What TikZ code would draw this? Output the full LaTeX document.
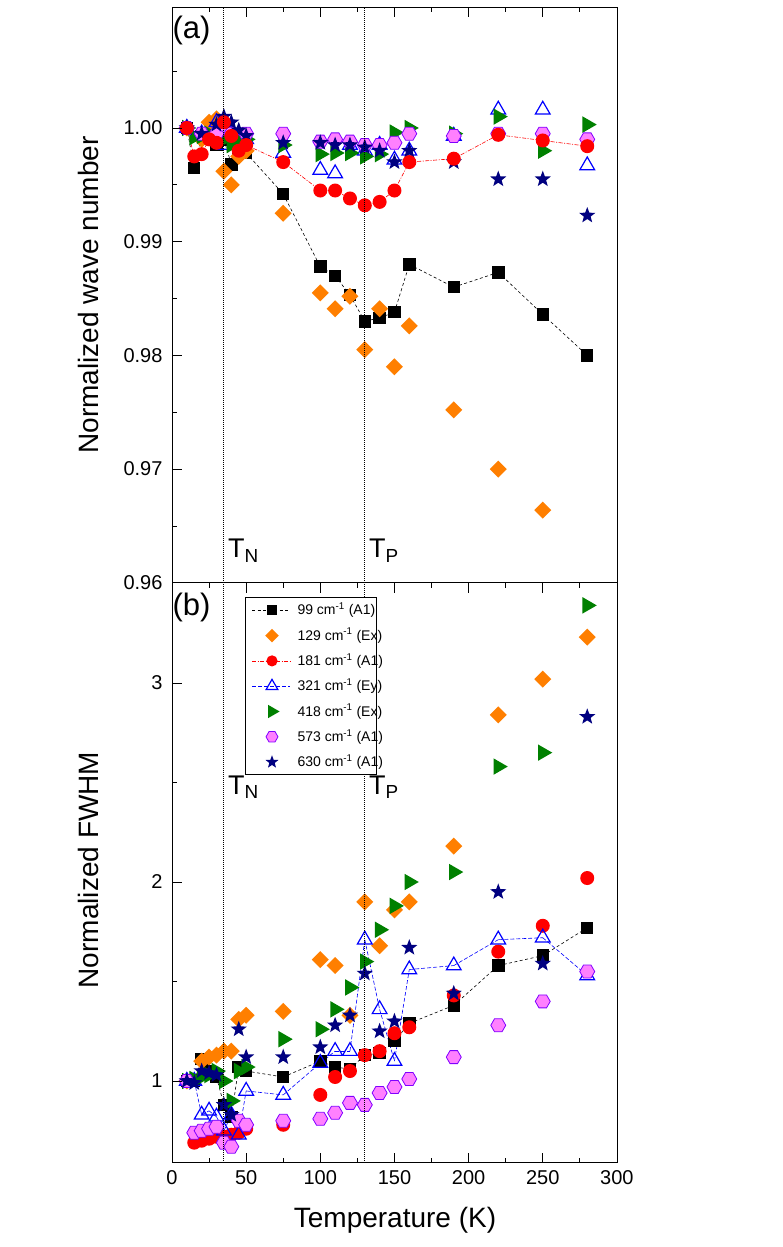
\documentclass[tikz,border=0pt]{standalone}
\usepackage{fontspec}
\setmainfont{Liberation Sans}
\usetikzlibrary{shapes.geometric}
\definecolor{orng}{HTML}{FF7F00}
\definecolor{grn}{HTML}{008000}
\definecolor{vio}{HTML}{8000FF}
\definecolor{pnk}{HTML}{FF80FF}
\definecolor{nvy}{HTML}{000080}
\tikzset{
  mk/.style={inner sep=0pt, outer sep=0pt},
  sqm/.style={mk, rectangle, fill=black, minimum size=12.5pt},
  dim/.style={mk, diamond, fill=orng, minimum size=17pt},
  cim/.style={mk, circle, fill=red, minimum size=14pt},
  trm/.style={mk, regular polygon, regular polygon sides=3, draw=blue, line width=1.2pt, minimum size=17pt},
  grm/.style={mk, regular polygon, regular polygon sides=3, shape border rotate=-90, fill=grn, minimum size=19pt},
  hxm/.style={mk, regular polygon, regular polygon sides=6, draw=vio, fill=pnk, line width=0.8pt, minimum size=15pt},
  stm/.style={mk, star, star points=5, star point ratio=2.4, fill=nvy, minimum size=17pt},
  blkline/.style={black, dash pattern=on 3pt off 2.5pt, line width=0.6pt},
  redline/.style={red, dash pattern=on 4pt off 1.5pt on 1pt off 1.5pt, line width=0.6pt},
  bluline/.style={blue, dash pattern=on 4pt off 2pt, line width=0.6pt},
  nolin/.style={draw=none},
  tlab/.style={font=\fontsize{20}{20}\selectfont},
  alab/.style={font=\fontsize{28}{28}\selectfont},
  tclab/.style={font=\fontsize{27}{27}\selectfont, anchor=base west},
  plab/.style={font=\fontsize{31}{31}\selectfont, anchor=north west}
}
% series data: top in units of 1e-3, bottom as ratio
\newcommand{\dAa}{10/0,15/-3.5,20/-0.7,25/-0.7,30/-1.5,35/-1,40/-3.2,45/-2,50/-2.2,75/-5.8,100/-12.2,110/-13,120/-14.7,130/-17,140/-16.7,150/-16.2,160/-12,190/-14,220/-12.7,250/-16.4,280/-20}
\newcommand{\dAb}{10/0,20/-1,25/0.5,30/0.8,35/-3.8,40/-5,45/-2.5,50/-2,75/-7.5,100/-14.5,110/-15.9,120/-14.8,130/-19.5,140/-15.9,150/-21,160/-17.4,190/-24.8,220/-30,250/-33.6}
\newcommand{\dAc}{10/0,15/-2.5,20/-2.3,25/-1,30/-1.3,35/0.5,40/-0.7,45/-2,50/-1.5,75/-3,100/-5.5,110/-5.5,120/-6.2,130/-6.8,140/-6.5,150/-5.5,160/-3,190/-2.7,220/-0.6,250/-1.1,280/-1.6}
\newcommand{\dAd}{10/0,20/-0.5,30/0.5,35/-1.5,40/-0.5,50/-1,75/-2.2,100/-3.7,110/-4,120/-1.5,130/-2,140/-1.5,150/-2.8,160/-2,190/-0.7,220/1.6,250/1.6,280/-3.3}
\newcommand{\dAe}{10/0,15/-0.8,20/-0.7,25/-0.5,30/-0.7,35/-1,40/-1.5,45/-1,50/-1,75/-1.5,100/-2.3,110/-2.2,120/-2.2,130/-2.5,140/-2.3,150/-0.4,160/0,190/-0.5,220/1,250/-2,280/0.3}
\newcommand{\dAf}{10/0,20/-0.5,30/-0.5,35/0.3,40/-0.5,50/-0.5,75/-0.5,100/-1.2,110/-1,120/-1.2,130/-1.5,140/-1.5,150/-1.3,160/-0.5,190/-0.7,220/-0.5,250/-0.5,280/-1}
\newcommand{\dAg}{10/0,20/-0.5,30/0.3,35/1,40/0.5,45/-0.2,50/-0.7,75/-1.3,100/-1.3,110/-1.5,120/-1.5,130/-1.7,140/-2,150/-3,160/-2,190/-3,220/-4.5,250/-4.5,280/-7.7}
\newcommand{\dBa}{10/1,15/1,20/1.11,25/1.05,30/1.02,35/0.88,40/0.82,45/1.07,50/1.05,75/1.02,100/1.1,110/1.07,120/1.06,130/1.13,140/1.14,150/1.2,160/1.29,190/1.38,220/1.58,250/1.63,280/1.77}
\newcommand{\dBb}{10/1,20/1.1,25/1.12,30/1.13,35/1.15,40/1.15,45/1.31,50/1.33,75/1.35,100/1.61,110/1.58,120/1.33,130/1.9,140/1.68,150/1.86,160/1.9,190/2.18,220/2.84,250/3.02,280/3.23}
\newcommand{\dBc}{15/0.69,20/0.7,25/0.71,30/0.72,35/0.72,40/0.73,45/0.74,50/0.76,75/0.78,100/0.93,110/1.02,120/1.05,130/1.13,140/1.15,150/1.24,160/1.27,190/1.43,220/1.65,250/1.78,280/2.02}
\newcommand{\dBd}{10/1,15/1,20/0.83,25/0.85,30/0.82,35/0.75,40/0.83,45/0.73,50/0.95,75/0.93,100/1.09,110/1.15,120/1.15,130/1.71,140/1.36,150/1.1,160/1.56,190/1.58,220/1.71,250/1.72,280/1.53}
\newcommand{\dBe}{10/1,15/1.01,20/1.02,25/1.03,30/1.05,35/1,40/0.9,45/1.05,50/1.07,75/1.21,100/1.26,110/1.36,120/1.47,130/1.6,140/1.76,150/1.88,160/2,190/2.05,220/2.58,250/2.65,280/3.39}
\newcommand{\dBf}{10/1,15/0.74,20/0.75,25/0.76,30/0.77,35/0.69,40/0.67,45/0.8,50/0.78,75/0.8,100/0.81,110/0.84,120/0.89,130/0.88,140/0.94,150/0.97,160/1.01,190/1.12,220/1.28,250/1.4,280/1.55}
\newcommand{\dBg}{10/1,15/0.99,20/1.05,25/1.04,30/1.03,35/0.88,40/0.83,45/1.26,50/1.12,75/1.12,100/1.17,110/1.28,120/1.33,130/1.54,140/1.25,150/1.3,160/1.67,190/1.44,220/1.95,250/1.59,280/2.83}
\newcommand{\joinpts}[2]{%
  \foreach \x/\y [remember=\x as \px (initially 10), remember=\y as \py (initially 0)] in #2 {\draw[#1] (\px,\py) -- (\x,\y);}}
\newcommand{\joinptsB}[2]{%
  \foreach \x/\y [remember=\x as \px (initially 10), remember=\y as \py (initially 1)] in #2 {\draw[#1] (\px,\py) -- (\x,\y);}}
\newcommand{\markpts}[2]{\foreach \x/\y in #2 {\node[#1] at (\x,\y) {};}}

\begin{document}
\begin{tikzpicture}[x=1pt, y=1pt]
  \useasboundingbox (0,0) rectangle (783,1247);
  % panel (a)
  \begin{scope}[shift={(172pt,1119pt)}, x=1.483pt, y=11.37pt]
    \clip (0,-40) rectangle (300,10.6);
    \joinpts{blkline}{\dAa}
    \joinpts{redline}{\dAc}
    \markpts{sqm}{\dAa}
    \markpts{dim}{\dAb}
    \markpts{trm}{\dAd}
    \markpts{grm}{\dAe}
    \markpts{hxm}{\dAf}
    \markpts{stm}{\dAg}
    \markpts{cim}{\dAc}
  \end{scope}
  \begin{scope}[shift={(172pt,1119pt)}, x=1.483pt, y=11.37pt]
    \foreach \v/\t in {-40/0.96,-30/0.97,-20/0.98,-10/0.99,0/1.00} {
      \draw[line width=0.8pt] (0,\v) -- ++(10pt,0);
      \node[tlab, anchor=east] (ya\v) at ([xshift=-6pt]0,\v) {\t};
    }
    \foreach \v in {-35,-25,-15,-5,5} \draw[line width=0.8pt] (0,\v) -- ++(5pt,0);
    \foreach \t in {50,100,...,250} \draw[line width=0.8pt] (\t,10.6) -- ++(0,-10pt);
    \foreach \t in {25,75,...,275} \draw[line width=0.8pt] (\t,10.6) -- ++(0,-5pt);
    \draw[densely dotted, line width=1pt] (35,-40) -- (35,10.6);
    \draw[densely dotted, line width=1pt] (130,-40) -- (130,10.6);
    \node[tclab] (tna) at (35.5,-37.8) {T\textsubscript{N}};
    \node[tclab] (tpa) at (130.5,-37.8) {T\textsubscript{P}};
    \node[plab] (laba) at (-2,10.2) {(a)};
  \end{scope}
  % panel (b)
  \begin{scope}[shift={(172pt,-33pt)}, x=1.483pt, y=199pt]
    \clip (0,0.588) rectangle (300,3.5);
    \joinptsB{blkline}{\dBa}
    \joinptsB{bluline}{\dBd}
    \markpts{sqm}{\dBa}
    \markpts{dim}{\dBb}
    \markpts{cim}{\dBc}
    \markpts{trm}{\dBd}
    \markpts{grm}{\dBe}
    \markpts{hxm}{\dBf}
    \markpts{stm}{\dBg}
  \end{scope}
  \begin{scope}[shift={(172pt,-33pt)}, x=1.483pt, y=199pt]
    \foreach \v in {1,2,3} {
      \draw[line width=0.8pt] (0,\v) -- ++(10pt,0);
      \node[tlab, anchor=east] (yb\v) at ([xshift=-6pt]0,\v) {\v};
    }
    \foreach \v in {1.5,2.5} \draw[line width=0.8pt] (0,\v) -- ++(5pt,0);
    \foreach \t in {0,50,...,300} {
      \draw[line width=0.8pt] (\t,0.588) -- ++(0,10pt);
      \draw[line width=0.8pt] (\t,3.5) -- ++(0,-10pt);
      \node[tlab, anchor=north] (xl\t) at ([yshift=-4pt]\t,0.588) {\t};
    }
    \foreach \t in {25,75,...,275} {
      \draw[line width=0.8pt] (\t,0.588) -- ++(0,5pt);
      \draw[line width=0.8pt] (\t,3.5) -- ++(0,-5pt);
    }
    \draw[densely dotted, line width=1pt] (35,0.588) -- (35,3.5);
    \draw[densely dotted, line width=1pt] (130,0.588) -- (130,3.5);
    \node[tclab] (tnb) at (35.5,2.44) {T\textsubscript{N}};
    \node[tclab] (tpb) at (130.5,2.44) {T\textsubscript{P}};
    \node[plab] (labb) at (-2,3.47) {(b)};
  \end{scope}
  % frames
  \draw[line width=1pt] (172,84) rectangle (617,1239);
  \draw[line width=1pt] (172,664) -- (617,664);
  % legend
  \draw[line width=0.6pt, fill=white] (245,473) rectangle (376,650);
  \foreach \s/\l/\t [count=\i] in {sqm/blkline/99 cm\textsuperscript{-1} (A1), dim/nolin/129 cm\textsuperscript{-1} (Ex), cim/redline/181 cm\textsuperscript{-1} (A1), trm/bluline/321 cm\textsuperscript{-1} (Ey), grm/nolin/418 cm\textsuperscript{-1} (Ex), hxm/nolin/573 cm\textsuperscript{-1} (A1), stm/nolin/630 cm\textsuperscript{-1} (A1)} {
    \coordinate (lg\i) at (272,662-25.3*\i);
    \draw[\l] ([xshift=-20pt]lg\i) -- ([xshift=18pt]lg\i);
    \node[\s, scale=0.8] (lm\i) at (lg\i) {};
    \node[anchor=west, font=\fontsize{14}{14}\selectfont] (lt\i) at ([xshift=22pt]lg\i) {\t};
  }
  % axis titles
  \node[alab, rotate=90] (ytita) at (88,952) {Normalized wave number};
  \node[alab, rotate=90] (ytitb) at (88,377) {Normalized FWHM};
  \node[alab] (xtit) at (395,27) {Temperature (K)};
\end{tikzpicture}
\end{document}
